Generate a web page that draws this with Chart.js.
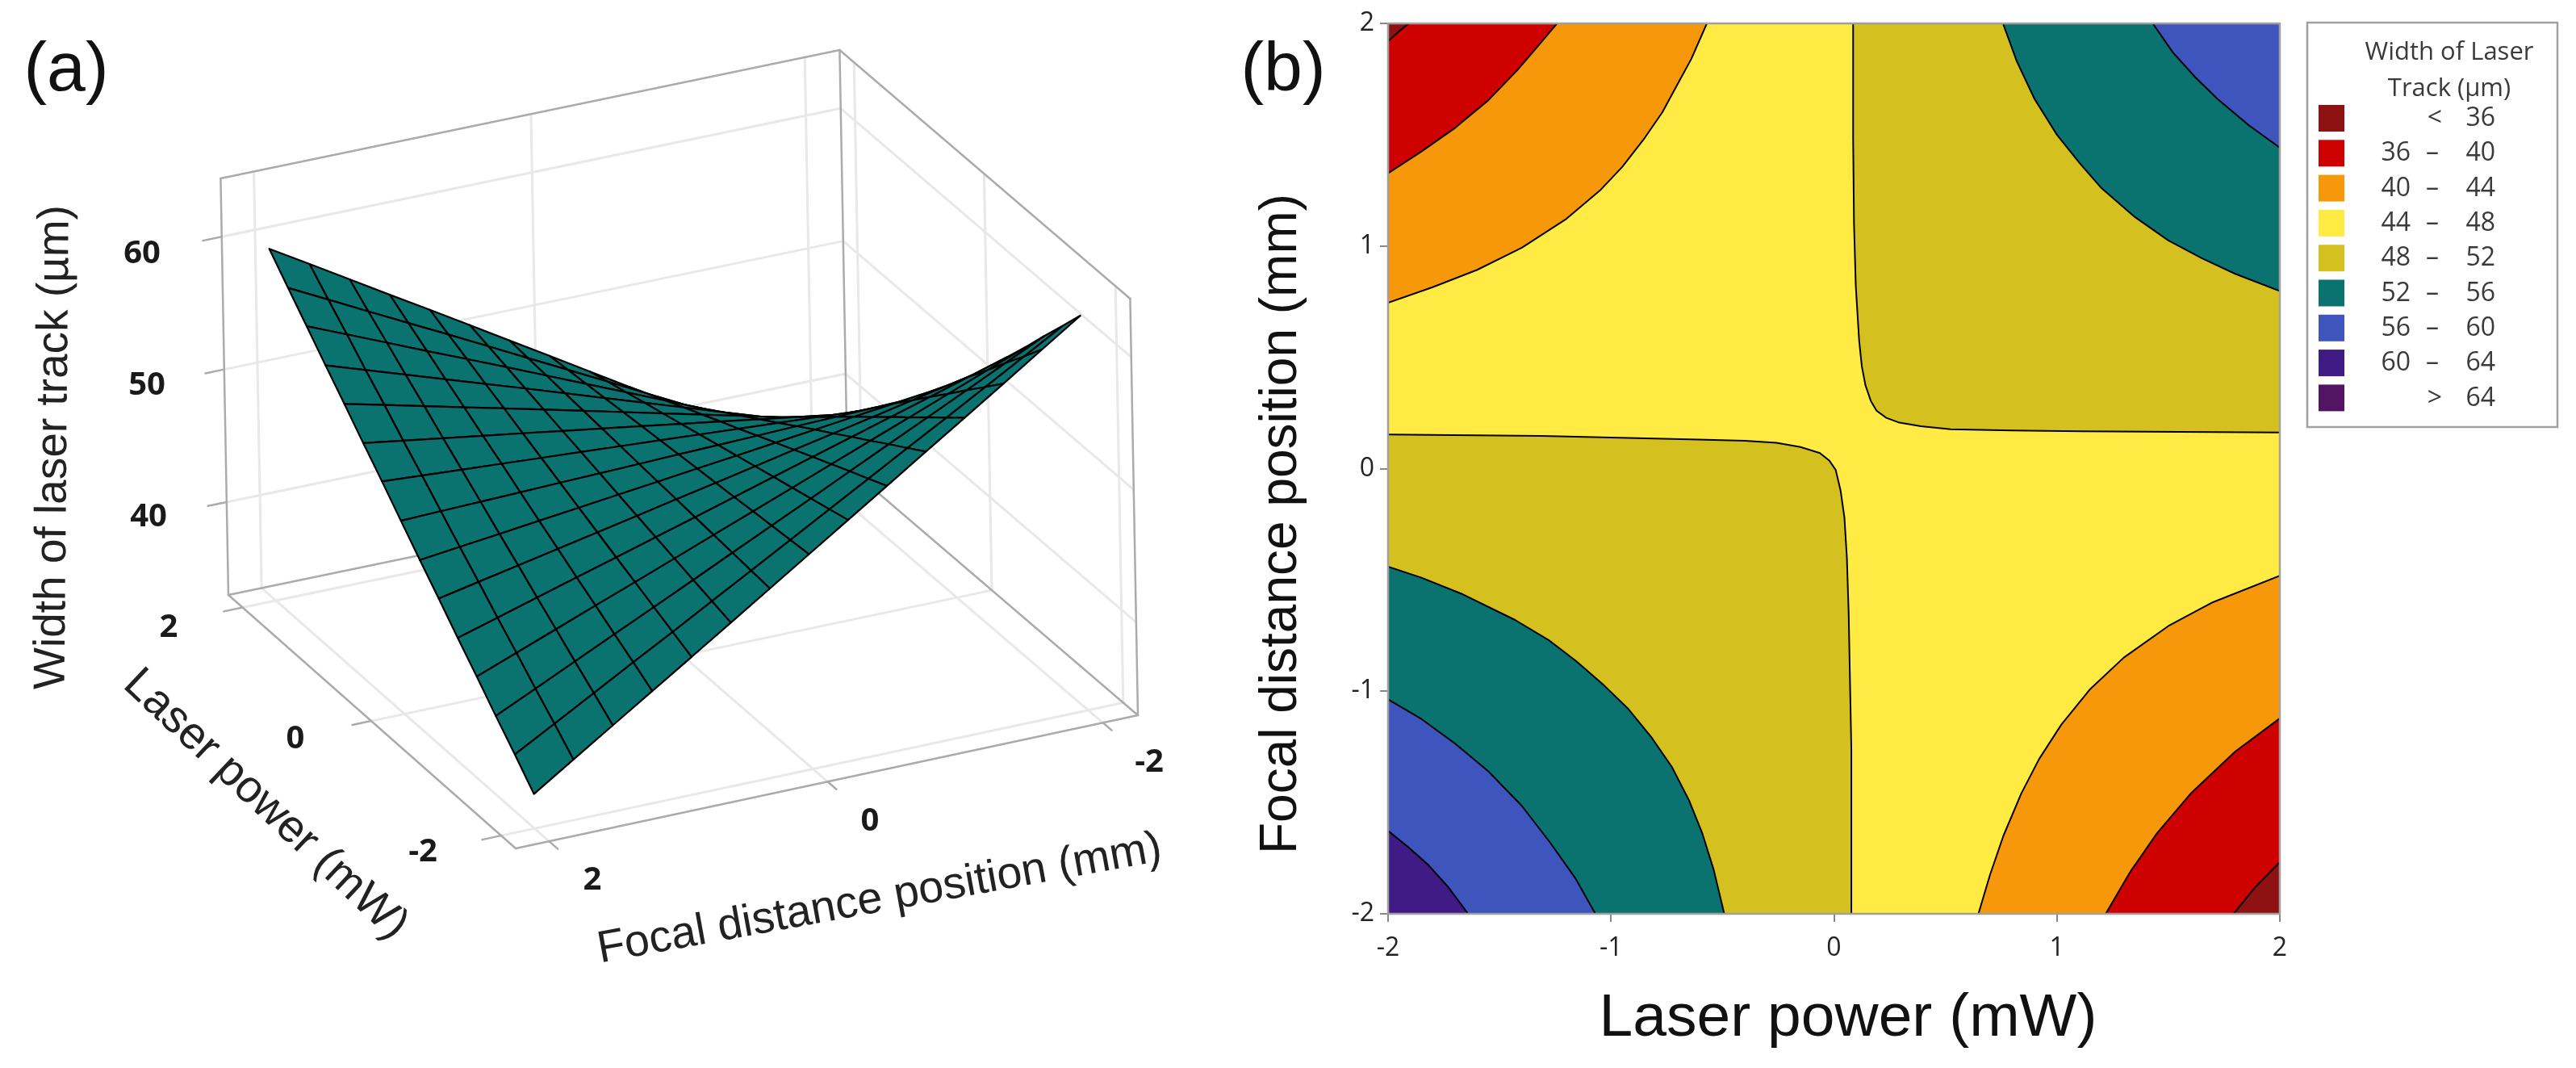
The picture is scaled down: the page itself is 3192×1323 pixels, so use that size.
<!DOCTYPE html>
<html><head><meta charset="utf-8">
<style>html,body{margin:0;padding:0;background:#fff;width:3192px;height:1323px;overflow:hidden}
canvas{position:absolute;display:block}</style>
<script src="https://cdn.jsdelivr.net/npm/chart.js@4"></script>
</head><body>
<div id="wa" style="position:absolute;left:0;top:0;width:3192px;height:1323px"><canvas id="a"></canvas></div>
<div id="wb" style="position:absolute;left:1500px;top:0;width:1340px;height:1323px"><canvas id="b"></canvas></div>
<script>
// ---------- Data ----------
const laserPower = [-2,-1.714,-1.429,-1.143,-0.857,-0.571,-0.286,0,0.286,0.571,0.857,1.143,1.429,1.714,2];
const focalPosition = [-2,-1.714,-1.429,-1.143,-0.857,-0.571,-0.286,0,0.286,0.571,0.857,1.143,1.429,1.714,2];
// width of the laser track: one row per focal position, one column per laser power
const trackWidth = [
[62.62,60.59,58.62,56.58,54.62,52.58,50.62,48.58,46.55,44.58,42.54,40.58,38.54,36.58,34.54],
[60.68,58.91,57.21,55.44,53.74,51.97,50.26,48.50,46.73,45.03,43.26,41.56,39.79,38.08,36.32],
[58.73,57.24,55.79,54.30,52.85,51.36,49.91,48.41,46.92,45.47,43.98,42.53,41.04,39.59,38.09],
[56.79,55.56,54.38,53.15,51.97,50.74,49.56,48.33,47.10,45.92,44.69,43.51,42.28,41.10,39.87],
[54.87,53.91,52.98,52.02,51.09,50.13,49.21,48.25,47.29,46.36,45.40,44.47,43.51,42.59,41.63],
[52.92,52.23,51.57,50.88,50.21,49.52,48.85,48.16,47.47,46.81,46.12,45.45,44.76,44.09,43.40],
[50.98,50.56,50.15,49.73,49.33,48.91,48.50,48.08,47.66,47.25,46.83,46.43,46.01,45.60,45.18],
[49.04,48.89,48.74,48.59,48.44,48.29,48.15,48.00,47.85,47.70,47.55,47.40,47.25,47.11,46.96],
[47.09,47.21,47.33,47.45,47.56,47.68,47.79,47.91,48.03,48.15,48.27,48.38,48.50,48.61,48.73],
[45.15,45.54,45.91,46.30,46.68,47.07,47.44,47.83,48.22,48.59,48.98,49.36,49.75,50.12,50.51],
[43.21,43.86,44.50,45.16,45.79,46.45,47.09,47.75,48.40,49.04,49.70,50.33,50.99,51.63,52.29],
[41.28,42.21,43.10,44.03,44.92,45.84,46.74,47.66,48.59,49.48,50.41,51.30,52.22,53.12,54.04],
[39.34,40.53,41.69,42.88,44.04,45.23,46.38,47.58,48.77,49.93,51.12,52.28,53.47,54.62,55.82],
[37.40,38.86,40.27,41.74,43.15,44.62,46.03,47.50,48.96,50.37,51.84,53.25,54.72,56.13,57.60],
[35.45,37.19,38.86,40.59,42.27,44.00,45.68,47.41,49.15,50.82,52.55,54.23,55.96,57.64,59.37]];
const surfaceTicksZ = [40,50,60];
const surfaceTicksXY = [-2,0,2];

// contour lines of panel (b): [laser power, focal position]
const c36TopLeft = [[-2,1.92],[-1.95,1.965],[-1.906,2]];
const c40TopLeft = [[-2,1.327],[-1.85,1.425],[-1.7,1.53],[-1.55,1.655],[-1.42,1.79],[-1.33,1.895],[-1.242,2]];
const c44TopLeft = [[-2,0.745],[-1.8,0.815],[-1.6,0.893],[-1.4,0.992],[-1.2,1.122],[-1.05,1.249],[-0.95,1.355],[-0.85,1.484],[-0.77,1.6],[-0.7,1.73],[-0.64,1.84],[-0.57,2]];
const c48TopRight = [[0.086,2],[0.086,1.492],[0.09,1.1],[0.098,0.82],[0.113,0.575],[0.125,0.46],[0.141,0.376],[0.165,0.305],[0.191,0.26],[0.235,0.228],[0.289,0.208],[0.39,0.19],[0.523,0.177],[0.8,0.171],[1.109,0.168],[2,0.162]];
const c52TopRight = [[0.758,2],[0.82,1.83],[0.9,1.66],[1,1.5],[1.1,1.375],[1.2,1.26],[1.35,1.13],[1.5,1.025],[1.65,0.945],[1.8,0.875],[2,0.798]];
const c56TopRight = [[1.43,2],[1.52,1.87],[1.62,1.759],[1.72,1.661],[1.86,1.543],[2,1.442]];
const c48BottomLeft = [[-2,0.153],[-1.313,0.147],[-0.609,0.131],[-0.4,0.125],[-0.258,0.116],[-0.15,0.097],[-0.063,0.07],[-0.02,0.035],[0.008,-0.006],[0.03,-0.1],[0.047,-0.22],[0.058,-0.4],[0.066,-0.648],[0.078,-1.26],[0.078,-2]];
const c52BottomLeft = [[-2,-0.44],[-1.85,-0.49],[-1.664,-0.565],[-1.43,-0.68],[-1.28,-0.77],[-1.156,-0.865],[-1.03,-0.975],[-0.922,-1.08],[-0.82,-1.205],[-0.727,-1.34],[-0.65,-1.49],[-0.59,-1.64],[-0.54,-1.8],[-0.492,-2]];
const c56BottomLeft = [[-2,-1.037],[-1.85,-1.125],[-1.7,-1.235],[-1.55,-1.36],[-1.4,-1.515],[-1.273,-1.68],[-1.16,-1.84],[-1.07,-2]];
const c60BottomLeft = [[-2,-1.627],[-1.91,-1.7],[-1.82,-1.78],[-1.73,-1.88],[-1.641,-2]];
const c44BottomRight = [[0.648,-2],[0.7,-1.825],[0.76,-1.65],[0.84,-1.46],[0.92,-1.305],[1.02,-1.15],[1.15,-0.99],[1.3,-0.849],[1.5,-0.707],[1.7,-0.6],[2,-0.481]];
const c40BottomRight = [[1.219,-2],[1.33,-1.81],[1.45,-1.637],[1.6,-1.46],[1.8,-1.271],[2,-1.122]];
const c36BottomRight = [[1.793,-2],[1.89,-1.88],[2,-1.768]];

const legendLabels = [['','<','36'],['36','–','40'],['40','–','44'],['44','–','48'],['48','–','52'],['52','–','56'],['56','–','60'],['60','–','64'],['','>','64']];
const legendColors = ['#8F1212','#CF0000','#F7980A','#FFEB44','#D4C120','#0A736F','#3E55BE','#401A85','#541464'];
const [DARKRED,RED,ORANGE,YELLOW,OLIVE,TEAL,BLUE,INDIGO] = legendColors;

// ---------- Panel (a) geometry: wireframe box of the 3D plot ----------
const FA=[283,737],FB=[639,1051],FC=[1410,886],FD=[1050,578];
const UP=[-9.6,-516], Z0=33, Z1=64.4, M=0.05, ZLIFT=0.15;
function makeH(p0,p1,p2,p3){
  const dx1=p1[0]-p2[0],dx2=p3[0]-p2[0],dx3=p0[0]-p1[0]+p2[0]-p3[0];
  const dy1=p1[1]-p2[1],dy2=p3[1]-p2[1],dy3=p0[1]-p1[1]+p2[1]-p3[1];
  const den=dx1*dy2-dx2*dy1;
  const g=(dx3*dy2-dx2*dy3)/den,h=(dx1*dy3-dx3*dy1)/den;
  const a=p1[0]-p0[0]+g*p1[0],b=p3[0]-p0[0]+h*p3[0],c=p0[0];
  const d=p1[1]-p0[1]+g*p1[1],e=p3[1]-p0[1]+h*p3[1],f=p0[1];
  return (u,v)=>{const w=g*u+h*v+1;return [(a*u+b*v+c)/w,(d*u+e*v+f)/w];};
}
const H=makeH(FA,FB,FC,FD);
const uOf=l=>M+(1-2*M)*(2-l)/4, vOf=f=>0.053+0.89*(2-f)/4;
function raw(u,v,z){const p=H(u,v),t=(z-Z0)/(Z1-Z0);return {x:p[0]+t*UP[0],y:p[1]+t*UP[1]};}
const proj=(l,f,z)=>raw(uOf(l),vOf(f),z+ZLIFT);

const lineDs=(pts,color,w)=>({data:pts,showLine:true,borderColor:color,borderWidth:w,pointRadius:0,fill:false,tension:0,borderCapStyle:'round',borderJoinStyle:'round'});
const dsA=[]; // painted back to front, reversed before use
const GRID='#E8E8E8',BOX='#ABABAB';
surfaceTicksZ.forEach(z=>{
  dsA.push(lineDs([raw(0,0,z),raw(0,1,z)],GRID,3));
  dsA.push(lineDs([raw(0,1,z),raw(1,1,z)],GRID,3));
});
surfaceTicksXY.forEach(t=>{
  dsA.push(lineDs([raw(0,vOf(t),Z0),raw(0,vOf(t),Z1)],GRID,3));
  dsA.push(lineDs([raw(uOf(t),1,Z0),raw(uOf(t),1,Z1)],GRID,3));
  dsA.push(lineDs([raw(0,vOf(t),Z0),raw(1,vOf(t),Z0)],GRID,3));
  dsA.push(lineDs([raw(uOf(t),0,Z0),raw(uOf(t),1,Z0)],GRID,3));
});
[[[0,0,Z0],[1,0,Z0]],[[1,0,Z0],[1,1,Z0]],[[1,1,Z0],[0,1,Z0]],[[0,1,Z0],[0,0,Z0]],
 [[0,0,Z0],[0,0,Z1]],[[1,1,Z0],[1,1,Z1]],[[0,1,Z0],[0,1,Z1]],
 [[0,0,Z1],[0,1,Z1]],[[0,1,Z1],[1,1,Z1]]].forEach(s=>dsA.push(lineDs([raw(...s[0]),raw(...s[1])],BOX,2.5)));
surfaceTicksZ.forEach(z=>dsA.push(lineDs([raw(0,0,z),raw(0,-0.03,z)],BOX,2.5)));
surfaceTicksXY.forEach(t=>{
  dsA.push(lineDs([raw(uOf(t),0,Z0),raw(uOf(t),-0.03,Z0)],BOX,2.5));
  dsA.push(lineDs([raw(1,vOf(t),Z0),raw(1.03,vOf(t),Z0)],BOX,2.5));
});
for(let j=0;j<focalPosition.length-1;j++){
  for(let i=laserPower.length-2;i>=0;i--){
    const P=(a,b)=>proj(laserPower[a],focalPosition[b],trackWidth[b][a]);
    const q=[P(i,j),P(i+1,j),P(i+1,j+1),P(i,j+1)];q.push(q[0]);
    dsA.push({data:q,showLine:true,borderColor:'#000',borderWidth:2.2,pointRadius:0,backgroundColor:TEAL,fill:'shape',tension:0,borderJoinStyle:'round'});
  }
}
dsA.reverse();

const labelFont='"Liberation Sans"', tickFont='"Open Sans"';
const textsA=[
 {t:'(a)',x:82,y:88,a:0,f:`86px ${labelFont}`,c:'#111'},
 {t:'(b)',x:1590,y:88,a:0,f:`86px ${labelFont}`,c:'#111'},
 {t:'Width of laser track (µm)',x:67,y:554,a:-89.5,f:`55px ${labelFont}`,c:'#222'},
 {t:'Laser power (mW)',x:329,y:997,a:43.3,f:`56px ${labelFont}`,c:'#222'},
 {t:'Focal distance position (mm)',x:1090,y:1114,a:-10.3,f:`55.5px ${labelFont}`,c:'#222'},
 {t:'Laser power (mW)',x:2290,y:1262,a:0,f:`75px ${labelFont}`,c:'#111'},
 {t:'Focal distance position (mm)',x:1588,y:649,a:-90,f:`64px ${labelFont}`,c:'#111'},
 {t:'60',x:176,y:315,a:0,f:`bold 40px ${tickFont}`,c:'#1a1a1a'},
 {t:'50',x:182,y:478,a:0,f:`bold 40px ${tickFont}`,c:'#1a1a1a'},
 {t:'40',x:184,y:641,a:0,f:`bold 40px ${tickFont}`,c:'#1a1a1a'},
 {t:'2',x:209,y:778,a:0,f:`bold 40px ${tickFont}`,c:'#1a1a1a'},
 {t:'0',x:366,y:916,a:0,f:`bold 40px ${tickFont}`,c:'#1a1a1a'},
 {t:'-2',x:524,y:1056,a:0,f:`bold 40px ${tickFont}`,c:'#1a1a1a'},
 {t:'2',x:734,y:1091,a:0,f:`bold 40px ${tickFont}`,c:'#1a1a1a'},
 {t:'0',x:1078,y:1018,a:0,f:`bold 40px ${tickFont}`,c:'#1a1a1a'},
 {t:'-2',x:1424,y:945,a:0,f:`bold 40px ${tickFont}`,c:'#1a1a1a'}
];
const overlay={id:'overlay',afterDraw(ch){
  const ctx=ch.ctx;ctx.save();
  textsA.forEach(o=>{ctx.save();ctx.translate(o.x,o.y);ctx.rotate(o.a*Math.PI/180);
    ctx.font=o.f;ctx.fillStyle=o.c;ctx.textAlign='center';ctx.textBaseline='middle';ctx.fillText(o.t,0,0);ctx.restore();});
  ctx.strokeStyle='#A0A0A0';ctx.lineWidth=2.5;ctx.strokeRect(2859,28,310,501);
  ctx.fillStyle='#3a3a3a';ctx.textBaseline='middle';ctx.textAlign='center';
  ctx.font=`31px ${tickFont}`;
  ctx.fillText('Width of Laser',3035,65);ctx.fillText('Track (µm)',3035,110);
  legendLabels.forEach((r,i)=>{
    const y=130+i*43.3;
    ctx.fillStyle=legendColors[i];ctx.fillRect(2873,y,32,33);
    ctx.fillStyle='#3a3a3a';ctx.font=`32px ${tickFont}`;
    ctx.textAlign='right';
    if(r[0])ctx.fillText(r[0],2987,y+17);
    ctx.fillText(r[2],3092,y+17);
    ctx.textAlign='center';ctx.fillText(r[1],r[0]?3014:3017,y+17);
  });
  ctx.restore();
}};

const hidden={display:false,type:'linear',offset:false};
new Chart(document.getElementById('a'),{type:'scatter',
 data:{datasets:dsA},
 options:{responsive:true,maintainAspectRatio:false,animation:false,devicePixelRatio:1,events:[],
  layout:{padding:0},
  plugins:{legend:{display:false},tooltip:{enabled:false}},
  scales:{x:{...hidden,min:0,max:3192},y:{...hidden,min:0,max:1323,reverse:true}}},
 plugins:[overlay]});

// ---------- Panel (b) ----------
const dsB=[];
const region=(pts,corner,color)=>({data:[...pts,...corner].map(p=>({x:p[0],y:p[1]})),showLine:true,borderWidth:0,borderColor:color,backgroundColor:color,pointRadius:0,fill:'shape',tension:0});
dsB.push(region([[-2,-2],[2,-2],[2,2],[-2,2]],[],YELLOW));
const TL=[[-2,2]],TR=[[2,2]],BL=[[-2,-2]],BR=[[2,-2]];
const regs=[[c44TopLeft,TL,ORANGE],[c40TopLeft,TL,RED],[c36TopLeft,TL,DARKRED],
 [c48TopRight,TR,OLIVE],[c52TopRight,TR,TEAL],[c56TopRight,TR,BLUE],
 [c48BottomLeft,BL,OLIVE],[c52BottomLeft,BL,TEAL],[c56BottomLeft,BL,BLUE],[c60BottomLeft,BL,INDIGO],
 [c44BottomRight,BR,ORANGE],[c40BottomRight,BR,RED],[c36BottomRight,BR,DARKRED]];
regs.forEach(r=>dsB.push(region(r[0],r[1],r[2])));
regs.forEach(r=>dsB.push(lineDs(r[0].map(p=>({x:p[0],y:p[1]})),'#000',2)));
dsB.push({...lineDs([[-2,-2],[2,-2],[2,2],[-2,2],[-2,-2]].map(p=>({x:p[0],y:p[1]})),'#A0A0A0',2.5),clip:false});
dsB.reverse();
const axisCommon={type:'linear',min:-2,max:2,
  grid:{drawOnChartArea:false,drawTicks:true,tickLength:10,color:'#888',lineWidth:2},
  border:{display:false}};
new Chart(document.getElementById('b'),{type:'scatter',
 data:{datasets:dsB},
 options:{responsive:true,maintainAspectRatio:false,animation:false,devicePixelRatio:1,events:[],
  layout:{padding:{left:0,top:29,right:15,bottom:0}},
  plugins:{legend:{display:false},tooltip:{enabled:false}},
  scales:{
   x:{...axisCommon,afterFit(s){s.height=191;s.paddingLeft=0;s.paddingRight=0;},
      ticks:{stepSize:1,padding:14,maxRotation:0,autoSkip:false,color:'#222',font:{family:'Open Sans',size:32},callback:v=>String(v)},
      title:{display:false}},
   y:{...axisCommon,afterFit(s){s.width=220;s.paddingTop=0;s.paddingBottom=0;},
      ticks:{stepSize:1,padding:7,autoSkip:false,color:'#222',font:{family:'Open Sans',size:32},callback:v=>String(v)},
      title:{display:false}}
  }}});
</script>
</body></html>
